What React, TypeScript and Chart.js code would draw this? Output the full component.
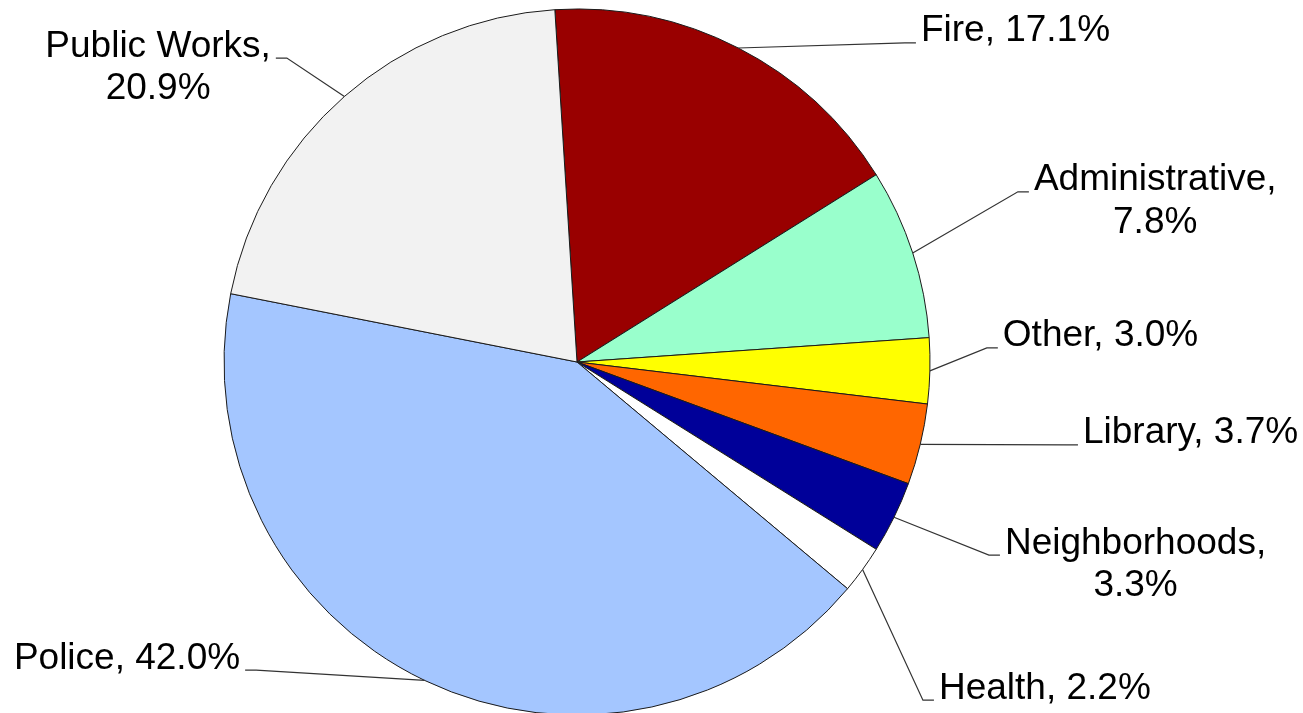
import React, { useEffect, useRef } from "react";
import { Chart, registerables } from "chart.js";

Chart.register(...registerables);

// ---- data ----
const categories = ["Fire", "Administrative", "Other", "Library", "Neighborhoods", "Health", "Police", "Public Works"];
const shares = [17.1, 7.8, 3.0, 3.7, 3.3, 2.2, 42.0, 20.9];
const sliceColors = ["#990000", "#99FFCC", "#FFFF00", "#FF6600", "#000099", "#FFFFFF", "#A4C6FF", "#F2F2F2"];

// ---- label layout (elbow of leader line, relative to pie centre in radius units) ----
const labelElbowX = [0.929, 1.249, 1.161, 1.388, 1.167, 0.98, -0.909, -0.822];
const labelElbowY = [-0.904, -0.482, -0.04, 0.235, 0.547, 0.958, 0.873, -0.861];
const labelWrap = [false, true, false, false, true, false, false, true];

const FONT = '37px "Liberation Sans", Arial, sans-serif';

const leaderLabels = {
  id: "leaderLabels",
  afterDatasetsDraw(chart: any) {
    const ctx = chart.ctx;
    const meta = chart.getDatasetMeta(0);
    ctx.save();
    ctx.font = FONT;
    ctx.fillStyle = "#000000";
    ctx.textBaseline = "alphabetic";
    meta.data.forEach((arc: any, i: number) => {
      const { x, y, outerRadius, startAngle, endAngle } = arc.getProps(
        ["x", "y", "outerRadius", "startAngle", "endAngle"],
        true
      );
      const mid = (startAngle + endAngle) / 2;
      const px = x + Math.cos(mid) * outerRadius;
      const py = y + Math.sin(mid) * outerRadius;
      const ex = x + labelElbowX[i] * outerRadius;
      const ey = y + labelElbowY[i] * outerRadius;
      const side = labelElbowX[i] >= 0 ? 1 : -1;
      const sx = ex + side * 11;

      ctx.strokeStyle = "#333333";
      ctx.lineWidth = 1.2;
      ctx.beginPath();
      ctx.moveTo(px, py);
      ctx.lineTo(ex, ey);
      ctx.lineTo(sx, ey);
      ctx.stroke();

      const pct = shares[i].toFixed(1) + "%";
      const lines = labelWrap[i] ? [categories[i] + ",", pct] : [categories[i] + ", " + pct];
      const w1 = ctx.measureText(lines[0]).width;
      const tx = side > 0 ? sx + 5 : sx - 5 - w1;
      const baseline = ey - 1.5;
      const cx = tx + w1 / 2;
      ctx.textAlign = "center";
      lines.forEach((ln, k) => {
        ctx.fillText(ln, cx, baseline + k * 42.5);
      });
    });
    ctx.restore();
  },
};

export default function App() {
  const canvasRef = useRef<HTMLCanvasElement | null>(null);

  useEffect(() => {
    if (!canvasRef.current) return;
    const chart = new Chart(canvasRef.current, {
      type: "pie",
      data: {
        labels: categories,
        datasets: [
          {
            data: shares,
            backgroundColor: sliceColors,
            borderColor: "#1a1a1a",
            borderWidth: 1,
            radius: 353,
          } as any,
        ],
      },
      options: {
        animation: false,
        responsive: true,
        maintainAspectRatio: false,
        devicePixelRatio: 1,
        rotation: -3.6,
        layout: { padding: { left: 0, right: 149, top: 11, bottom: 0 } },
        plugins: {
          legend: { display: false },
          tooltip: { enabled: false },
        },
      },
      plugins: [leaderLabels],
    });
    return () => chart.destroy();
  }, []);

  return (
    <div style={{ position: "fixed", left: 0, top: 0, width: 1303, height: 713, background: "#ffffff" }}>
      <canvas ref={canvasRef} />
    </div>
  );
}
